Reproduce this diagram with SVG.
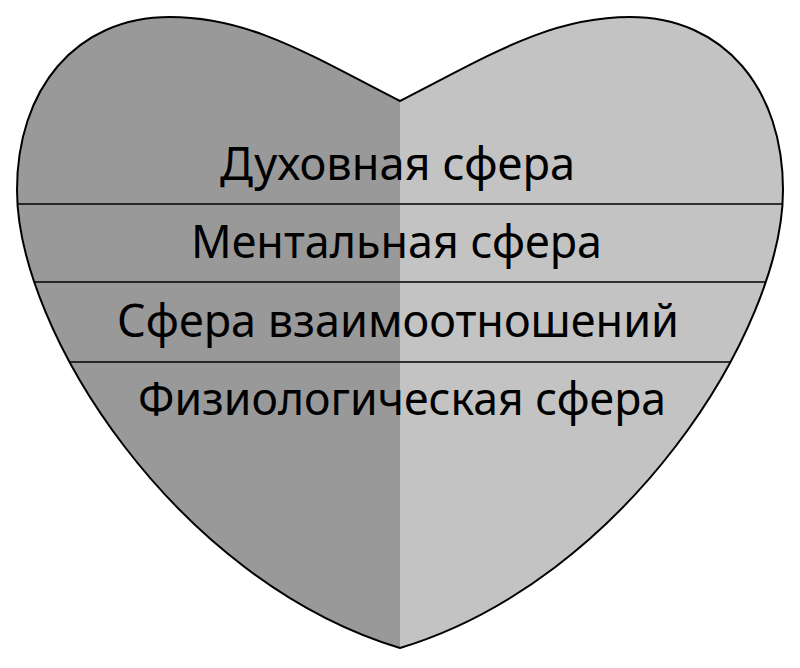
<svg xmlns="http://www.w3.org/2000/svg" width="800" height="668" viewBox="0 0 800 668">
<style>
.lbl{font-family:"Noto Sans","Open Sans","Liberation Sans",sans-serif;font-size:46px;fill:#000;text-anchor:middle}
.sep{stroke:#000;stroke-width:1.4}
</style>
<defs>
<path id="heart" d="M400,101 C310,55 250,17 170,17 C75,17 17,90 17,190 C17,330 175,580 400,648 C625,580 783,330 783,190 C783,90 725,17 630,17 C550,17 490,55 400,101 Z"/>
<clipPath id="hc"><use href="#heart"/></clipPath>
</defs>
<rect width="800" height="668" fill="#fff"/>
<g id="heart-body" clip-path="url(#hc)">
<rect x="0" y="0" width="400" height="668" fill="#999999"/>
<rect x="400" y="0" width="400" height="668" fill="#c3c3c3"/>
<line class="sep" x1="0" y1="204" x2="800" y2="204"/>
<line class="sep" x1="0" y1="282" x2="800" y2="282"/>
<line class="sep" x1="0" y1="362" x2="800" y2="362"/>
</g>
<use href="#heart" fill="none" stroke="#000" stroke-width="2"/>
<g id="sphere-spiritual"><text class="lbl" x="397.5" y="180" textLength="355" lengthAdjust="spacingAndGlyphs">Духовная сфера</text></g>
<g id="sphere-mental"><text class="lbl" x="396.5" y="258" textLength="411" lengthAdjust="spacingAndGlyphs">Ментальная сфера</text></g>
<g id="sphere-relations"><text class="lbl" x="398" y="337" textLength="562" lengthAdjust="spacingAndGlyphs">Сфера взаимоотношений</text></g>
<g id="sphere-physiological"><text class="lbl" x="402" y="415" textLength="528" lengthAdjust="spacingAndGlyphs">Физиологическая сфера</text></g>
</svg>
